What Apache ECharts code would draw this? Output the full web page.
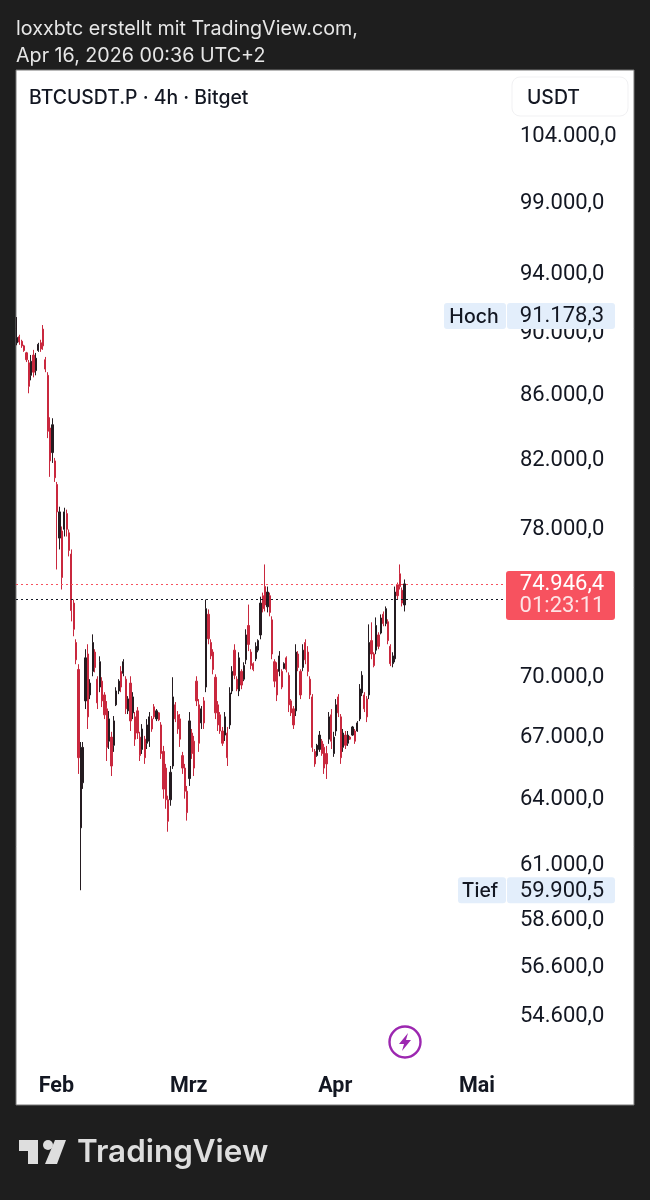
<!DOCTYPE html>
<html><head><meta charset="utf-8">
<style>html,body{margin:0;padding:0;background:#1e1e1e}#c{width:650px;height:1200px}</style>
<script src="https://cdn.jsdelivr.net/npm/echarts@6/dist/echarts.min.js"></script></head>
<body><div id="c"></div><script>
const priceTicks=[104000,99000,94000,90000,86000,82000,78000,70000,67000,64000,61000,58600,56600,54600];
const monthTicks=['2026-02-01','2026-03-01','2026-04-01','2026-05-01'];
const monthLabels=['Feb','Mrz','Apr','Mai'];
const opens=[89400,89800,89500,89200,88750,88100,87300,88600,87600,88900,89400,90300,88300,87300,84000,82500,82000,80600,77500,77900,78000,78900,77800,76600,73900,71800,70400,62700,64800,68800,71200,69100,70300,71300,69900,69500,69800,69100,68400,66800,67000,66600,68600,69300,70300,70200,69900,68300,69700,68200,68000,68300,67000,66400,66900,66700,66800,67900,68500,67900,68200,67600,66300,65500,64000,64000,65600,68600,68100,67900,66100,65500,64400,65000,67200,66800,69800,68600,67700,68800,69500,73300,71800,71300,70000,68600,68100,67300,67100,67200,67600,69300,71400,69900,69300,70300,69900,70900,72700,71300,70700,70950,71400,72200,74300,74800,73700,74300,73000,70800,70400,70300,70300,70450,71000,70100,68800,68400,68300,71200,70300,70500,71800,71300,69900,69000,66300,66100,66400,66800,66500,66200,66900,68100,66200,67300,69000,68000,66500,67100,66700,67000,67100,67300,67300,67900,69200,69100,68900,69100,71900,71200,71400,72200,72300,73300,72800,72900,71600,70700,70950,74900,75500,74600,73800];
const closes=[89750,89450,89200,88900,88300,86600,88200,87500,88400,89300,89000,89200,87700,83800,82000,84200,81000,79000,79000,75300,79000,78000,76800,73500,72500,70900,66000,66500,66500,71000,68000,69700,71800,70500,68700,70800,68800,68100,66500,67900,65600,67800,69300,69800,69500,70800,68400,68900,67800,69000,66900,67200,66100,67400,66000,67600,68000,67400,68000,68300,67850,66200,64500,64000,63000,65300,69000,67900,67400,66900,65500,64400,63400,67800,66200,65500,68800,66700,68400,67700,73600,72000,71100,70400,68200,67600,67300,66700,68000,66000,69200,70300,70100,69400,71000,69600,70600,72200,71700,70600,70400,71600,71900,73900,73600,73800,74500,73400,71200,69800,69100,71100,69500,70700,70400,68600,68200,67600,71300,70500,69100,71400,70900,70300,69100,66500,65700,66600,67100,66200,65500,65700,68000,66800,67000,68600,68200,66000,67200,66600,67100,66900,67500,66800,67700,69400,70100,68400,68000,71800,71200,70600,72700,71600,73100,72800,73600,71900,70700,71100,74500,74300,74800,73900,74946.4];
const lows=[89240,89270,89070,88810,88150,86160,86980,87170,87300,88810,88810,88940,87500,83380,81050,81880,80750,75740,76860,74640,77590,77590,76470,72920,72130,70670,65220,59900.5,64510,68390,67400,68890,70050,70250,68390,69240,68490,67890,65840,66420,65120,66280,68540,69140,69240,70050,68140,68140,67300,67890,66570,66910,65840,66180,65700,66420,66520,67260,67890,67790,67790,65940,64050,63580,62520,63720,65460,67740,67160,66520,65220,64050,63030,64650,65940,65120,68540,66280,67400,67400,69240,71710,70930,70150,67890,67300,67160,66570,66810,65600,67400,69140,69900,69290,69040,69390,69800,70670,71350,70410,70310,70830,71290,71970,73400,73450,73400,73190,70930,69490,68790,70050,69390,70410,70250,68240,68040,67400,68040,70310,68890,70310,70670,70050,68890,66280,65560,66040,66280,66090,65220,64980,66670,66420,66040,67060,67990,65700,66280,66420,66570,66860,67060,66670,67260,67790,69040,68240,67740,68890,70930,70510,71190,71450,72230,72660,72660,71710,70570,70510,70770,74090,74640,73720,73450];
const highs=[91100,89930,89600,89270,88810,88280,88610,88940,88740,89400,89600,90570,88480,87500,84660,84600,82180,80750,79300,78160,79240,79130,77990,76860,74090,71970,70670,66760,66760,71450,71710,69900,72230,71450,70050,71080,70000,69240,68790,68290,67260,68040,69490,69900,70570,70930,70050,69040,70050,69240,68240,68490,67260,67640,67060,67890,68240,68040,68640,68390,68240,67740,66570,65700,64190,65600,70000,68740,68290,68140,66280,65700,64650,68240,67400,67060,70050,68890,68540,68990,74090,73560,71970,71450,70150,68790,68240,67500,68240,67500,69490,70570,71710,70050,71290,70410,70770,72500,73820,71450,70770,71810,71970,74250,74470,76020,74800,74470,73190,70930,70770,71350,70410,70770,71080,70250,68890,68540,71710,71350,70410,71710,71970,71610,70050,69140,66420,66670,67300,66910,66670,66570,68240,68390,67260,68890,69140,68140,67400,67300,67300,67060,67550,67400,67790,69650,70310,69240,69040,72760,72870,71290,73130,72340,73290,73450,73720,73030,71710,71290,74800,75020,76020,74750,75190];
const startTime=new Date(2026,0,23,16).getTime();
const stepMs=12*3600*1000;
const candles=opens.map((o,i)=>[startTime+i*stepMs,o,closes[i],lows[i],highs[i]]);
const lastPrice=74946.4, refPrice=74090, highPrice=91178.3, lowPrice=59900.5;
const fmtDe=v=>v.toLocaleString('de-DE',{minimumFractionDigits:1,maximumFractionDigits:1});
const chart=echarts.init(document.getElementById('c'),null,{renderer:'canvas'});
const monthMs=monthTicks.map(s=>new Date(s+'T00:00:00').getTime());
const base={
 animation:false,backgroundColor:'#1e1e1e',
 grid:{left:16,top:70,width:489,height:998},
 xAxis:{type:'value',min:new Date(2026,0,23,11).getTime(),max:new Date(2026,4,6,22).getTime(),
  axisLine:{show:false},axisTick:{show:false},splitLine:{show:false},
  axisLabel:{customValues:monthMs,margin:8,
   formatter:v=>monthLabels[monthMs.indexOf(Number(v))],
   fontFamily:'Roboto',fontWeight:'bold',fontSize:21.5,color:'#131722',hideOverlap:false}},
 yAxis:{type:'log',position:'right',min:52597,max:109145,logBase:10,
  axisLine:{show:false},axisTick:{show:false},splitLine:{show:false},minorSplitLine:{show:false},
  axisLabel:{customValues:priceTicks,margin:15,padding:[3,0,0,0],formatter:v=>fmtDe(Number(v)),fontFamily:'Roboto',fontSize:22,color:'#131722'}},
 series:[{type:'candlestick',barWidth:1.7,data:candles,
  itemStyle:{color:'#241b20',borderColor:'#241b20',color0:'#c9283e',borderColor0:'#c9283e',borderWidth:1},
  markLine:{silent:true,symbol:'none',label:{show:false},animation:false,
   data:[{yAxis:lastPrice,lineStyle:{color:'#f7525f',type:[2,3],width:1}},
         {yAxis:refPrice,lineStyle:{color:'#131722',type:[2,3],width:1}}]}}]
};
chart.setOption(base);
const yOf=v=>chart.convertToPixel({yAxisIndex:0},v);
const txt=(x,y,s,o)=>({type:'text',z:o.z||100,x,y,style:Object.assign({text:s,fontFamily:'Roboto',fontSize:22,fill:'#131722',verticalAlign:'middle',align:'left'},o.style||{})});
const rect=(x,y,w,h,fill,r,z,extra)=>({type:'rect',z:z||90,shape:{x,y,width:w,height:h,r:r||0},style:Object.assign({fill},extra||{})});
const yH=yOf(highPrice), yL=yOf(lowPrice), yP=yOf(lastPrice);
const tagBlue='#e3eefb';
const inter={fontFamily:'Inter'};
chart.setOption({graphic:{elements:[
 rect(16,70,618,1035,'#ffffff',0,-10,{stroke:'#777',lineWidth:1}),
 txt(16,29,'loxxbtc erstellt mit TradingView.com,',{style:{...inter,fill:'#e6e6e6',fontSize:19.7}}),
 txt(16,56,'Apr 16, 2026 00:36 UTC+2',{style:{...inter,fill:'#e6e6e6',fontSize:19.7}}),
 txt(29,98,'BTCUSDT.P · 4h · Bitget',{style:{...inter,fontSize:19.4,fontWeight:500}}),
 rect(512,77,116,39,'#ffffff',8,80,{stroke:'#f1f1f3',lineWidth:1}),
 txt(527,98,'USDT',{style:{...inter,fontSize:19.4,fontWeight:500}}),
 rect(444,yH-13,62,26,tagBlue,3),
 rect(507,yH-13,108,26,tagBlue,3),
 txt(474,yH+1,'Hoch',{style:{...inter,align:'center',fontWeight:500,fontSize:19.5}}),
 txt(562,yH+1,fmtDe(highPrice),{style:{align:'center'}}),
 rect(458,yL-13,48,26,tagBlue,3),
 rect(507,yL-13,108,26,tagBlue,3),
 txt(480,yL+1,'Tief',{style:{...inter,align:'center',fontWeight:500,fontSize:19.5}}),
 txt(562,yL+1,fmtDe(lowPrice),{style:{align:'center'}}),
 rect(506,yP-13,109,49,'#f7525f',3),
 txt(562,yP+1,fmtDe(lastPrice),{style:{align:'center',fill:'#ffffff'}}),
 txt(562,yP+23,'01:23:11',{style:{align:'center',fill:'#fde3e5'}}),
 {type:'circle',z:90,shape:{cx:405,cy:1042,r:15.5},style:{fill:'#fff',stroke:'#9c27b0',lineWidth:2.4}},
 {type:'polygon',z:91,shape:{points:[[408,1033],[399,1044],[404,1044],[402,1051],[411,1040],[406,1040]]},style:{fill:'#9c27b0'}},
 {type:'polygon',z:90,shape:{points:[[19,1140],[38,1140],[38,1164],[28,1164],[28,1151],[19,1151]]},style:{fill:'#dedede'}},
 {type:'circle',z:90,shape:{cx:48,cy:1145,r:5},style:{fill:'#dedede'}},
 {type:'polygon',z:90,shape:{points:[[55,1140],[66,1140],[57,1164],[45,1164]]},style:{fill:'#dedede'}},
 txt(77,1153,'TradingView',{style:{...inter,fill:'#dedede',fontSize:31.4,fontWeight:600}})
]}});
</script></body></html>
